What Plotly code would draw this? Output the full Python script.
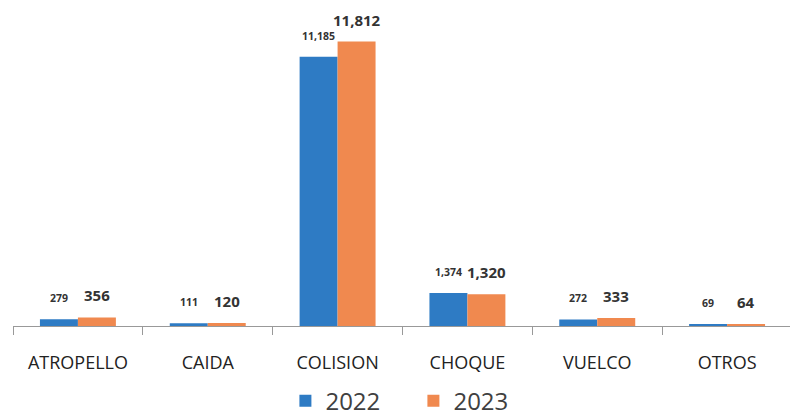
import plotly.graph_objects as go

categories = ["ATROPELLO", "CAIDA", "COLISION", "CHOQUE", "VUELCO", "OTROS"]
values_2022 = [279, 111, 11185, 1374, 272, 69]
values_2023 = [356, 120, 11812, 1320, 333, 64]
series_names = ["2022", "2023"]

BLUE = "#2E7BC4"
ORANGE = "#F0894F"
FONT = "Open Sans"

fig = go.Figure()
fig.add_trace(go.Bar(x=categories, y=values_2022, name=series_names[0],
                     marker=dict(color=BLUE, line=dict(width=0))))
fig.add_trace(go.Bar(x=categories, y=values_2023, name=series_names[1],
                     marker=dict(color=ORANGE, line=dict(width=0))))

annotations = []
for c, v in zip(categories, values_2022):
    annotations.append(dict(x=c, y=v, text=f"<b>{v:,}</b>", showarrow=False, xref="x", yref="y",
                            xshift=-19, yshift=12, yanchor="bottom",
                            font=dict(family=FONT, size=10.5, color="#333333")))
for c, v in zip(categories, values_2023):
    annotations.append(dict(x=c, y=v, text=f"<b>{v:,}</b>", showarrow=False, xref="x", yref="y",
                            xshift=19, yshift=10, yanchor="bottom",
                            font=dict(family=FONT, size=15, color="#333333")))

fig.update_layout(
    width=790, height=407,
    margin=dict(l=5, r=6, t=5, b=89, autoexpand=False),
    paper_bgcolor="white", plot_bgcolor="white",
    barmode="group", bargap=0.415, bargroupgap=0,
    showlegend=True,
    legend=dict(orientation="h", x=0.514, xanchor="center", y=-0.24, yanchor="middle",
                font=dict(family=FONT, size=24, color="#404040"),
                entrywidth=83, entrywidthmode="pixels", traceorder="normal",
                tracegroupgap=0),
    annotations=annotations,
    font=dict(family=FONT),
)
fig.update_xaxes(showline=True, linecolor="#999999", linewidth=1,
                 ticks="outside", tickson="boundaries", ticklen=8, tickcolor="#999999",
                 tickfont=dict(family=FONT, size=18, color="#222222"),
                 ticklabelstandoff=20, showgrid=False, automargin=False)
fig.update_yaxes(visible=False, range=[0, 13000], showgrid=False, automargin=False)

fig.write_html("out.html")
